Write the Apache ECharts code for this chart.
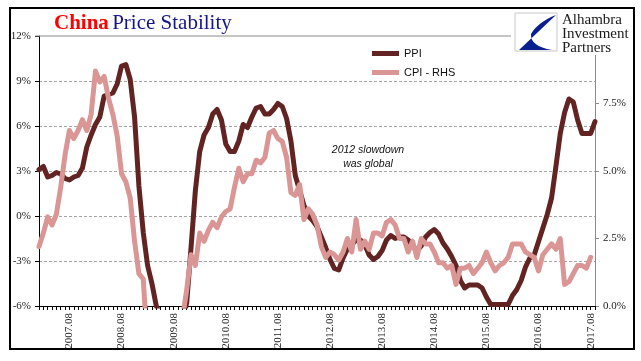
<!DOCTYPE html>
<html>
<head>
<meta charset="utf-8">
<script src="https://cdn.jsdelivr.net/npm/echarts@6/dist/echarts.min.js"></script>
<style>
html,body{margin:0;padding:0;background:#fff;}
#chart{width:641px;height:361px;}
</style>
</head>
<body>
<div id="chart"></div>
<script>
// Month slots (start of month) 2007.01 .. 2017.09
var months = [];
(function(){
  for (var y = 2007; y <= 2017; y++) {
    for (var m = 1; m <= 12; m++) {
      if (y === 2017 && m > 9) break;
      months.push(y + '.' + (m < 10 ? '0' + m : '' + m));
    }
  }
})();

// PPI y/y % (left axis), monthly 2006.12 .. 2017.08
var ppi = [3.1,
  3.3, 2.6, 2.7, 2.9, 2.8, 2.5, 2.4, 2.6, 2.7, 3.2, 4.6, 5.4,
  6.1, 6.6, 8.0, 8.1, 8.2, 8.8, 10.0, 10.1, 9.1, 6.6, 2.0, -1.1,
  -3.3, -4.5, -6.0, -6.6, -7.2, -7.8, -8.2, -7.9, -7.0, -5.8, -2.1, 1.7,
  4.3, 5.4, 5.9, 6.8, 7.1, 6.4, 4.8, 4.3, 4.3, 5.0, 6.1, 5.9,
  6.6, 7.2, 7.3, 6.8, 6.8, 7.1, 7.5, 7.3, 6.5, 5.0, 2.7, 1.7,
  0.7, 0.0, -0.3, -0.7, -1.4, -2.1, -2.9, -3.5, -3.6, -2.8, -2.2, -1.9,
  -1.6, -1.6, -1.9, -2.6, -2.9, -2.7, -2.3, -1.6, -1.3, -1.5, -1.4, -1.4,
  -1.6, -2.0, -2.3, -2.0, -1.4, -1.1, -0.9, -1.2, -1.8, -2.2, -2.7, -3.3,
  -4.3, -4.8, -4.6, -4.6, -4.6, -4.8, -5.4, -5.9, -5.9, -5.9, -5.9, -5.9,
  -5.3, -4.9, -4.3, -3.4, -2.8, -2.6, -1.7, -0.8, 0.1, 1.2, 3.3, 5.5,
  6.9, 7.8, 7.6, 6.4, 5.5, 5.5, 5.5, 6.3];

// CPI y/y % (right axis), monthly 2007.01 .. 2017.08
var cpi = [
  2.2, 2.7, 3.3, 3.0, 3.4, 4.4, 5.6, 6.5, 6.2, 6.5, 6.9, 6.5,
  7.1, 8.7, 8.3, 8.5, 7.7, 7.1, 6.3, 4.9, 4.6, 4.0, 2.4, 1.2,
  1.0, -1.6, -1.2, -1.5, -1.4, -1.7, -1.8, -1.2, -0.8, -0.5, 0.6, 1.9,
  1.5, 2.7, 2.4, 2.8, 3.1, 2.9, 3.3, 3.5, 3.6, 4.4, 5.1, 4.6,
  4.9, 4.9, 5.4, 5.3, 5.5, 6.4, 6.5, 6.2, 6.1, 5.5, 4.2, 4.1,
  4.5, 3.2, 3.6, 3.4, 3.0, 2.2, 1.8, 2.0, 1.9, 1.7, 2.0, 2.5,
  2.0, 3.2, 2.1, 2.4, 2.1, 2.7, 2.7, 2.6, 3.1, 3.2, 3.0, 2.5,
  2.5, 2.0, 2.4, 1.8, 2.5, 2.3, 2.3, 2.0, 1.6, 1.6, 1.4, 1.5,
  0.8, 1.4, 1.4, 1.5, 1.2, 1.4, 1.6, 2.0, 1.6, 1.3, 1.5, 1.6,
  1.8, 2.3, 2.3, 2.3, 2.0, 1.9, 1.8, 1.3, 1.9, 2.1, 2.3, 2.1,
  2.5, 0.8, 0.9, 1.2, 1.5, 1.5, 1.4, 1.8, null];

var leftTicks = {min: -6, max: 12, interval: 3};
var rightTicks = {min: 0, max: 10, interval: 2.5};

var PPI_COLOR = '#622423';
var CPI_COLOR = '#D99694';
var serif = '"Liberation Serif", "Times New Roman", serif';
var sans = '"Liberation Sans", Arial, sans-serif';

// logo swoosh outline (decoration)
function quad(p0, p1, p2, n) {
  var pts = [];
  for (var k = 1; k <= n; k++) {
    var t = k / n, a = (1 - t) * (1 - t), b = 2 * (1 - t) * t, c = t * t;
    pts.push([a * p0[0] + b * p1[0] + c * p2[0], a * p0[1] + b * p1[1] + c * p2[1]]);
  }
  return pts;
}
var logoPts = [[556, 15], [519, 50], [552, 50]]
  .concat(quad([552, 50], [530, 46], [531, 34], 8))
  .concat(quad([531, 34], [538, 22], [556, 15], 8));

var chart = echarts.init(document.getElementById('chart'), null, {renderer: 'canvas'});
chart.setOption({
  animation: false,
  backgroundColor: '#fff',
  grid: {left: 39, right: 46, top: 36, bottom: 55, containLabel: false},
  legend: {
    orient: 'vertical',
    left: 372, top: 48,
    padding: 0,
    itemGap: 8,
    itemWidth: 27, itemHeight: 5,
    icon: 'rect',
    textStyle: {fontFamily: sans, fontSize: 11, color: '#111'},
    data: ['PPI', 'CPI - RHS']
  },
  xAxis: {
    type: 'category',
    data: months,
    boundaryGap: false,
    axisLine: {onZero: false, lineStyle: {color: '#000', width: 1}},
    axisTick: {show: true, interval: 0, length: 4, lineStyle: {color: '#000'}},
    axisLabel: {
      interval: function (i, v) { return v.slice(5) === '08'; },
      rotate: 90, margin: 7,
      fontFamily: serif, fontSize: 11, color: '#222',
      padding: [5, 0, 0, 0]
    },
    splitLine: {show: false}
  },
  yAxis: [{
    type: 'value',
    position: 'left',
    min: leftTicks.min, max: leftTicks.max, interval: leftTicks.interval,
    axisLine: {show: true, lineStyle: {color: '#000'}},
    axisTick: {show: true, length: 4, lineStyle: {color: '#000'}},
    axisLabel: {formatter: '{value}%', fontFamily: serif, fontSize: 11, color: '#222', margin: 8},
    splitLine: {show: true, showMinLine: false, showMaxLine: false, lineStyle: {color: '#A6A6A6', type: [3, 2], width: 1}}
  }, {
    type: 'value',
    position: 'right',
    min: rightTicks.min, max: rightTicks.max, interval: rightTicks.interval,
    axisLine: {show: true, lineStyle: {color: '#8c8c8c'}},
    axisTick: {show: true, length: 4, lineStyle: {color: '#8c8c8c'}},
    axisLabel: {
      formatter: function (v) { return v >= 10 ? '' : v.toFixed(1) + '%'; },
      fontFamily: serif, fontSize: 11, color: '#222', margin: 8
    },
    splitLine: {show: false}
  }],
  series: [{
    name: 'PPI', type: 'line', yAxisIndex: 0, data: ppi,
    symbol: 'none', clip: true, z: 3,
    lineStyle: {color: PPI_COLOR, width: 5, cap: 'round', join: 'round'},
    itemStyle: {color: PPI_COLOR}
  }, {
    name: 'CPI - RHS', type: 'line', yAxisIndex: 1, data: cpi,
    symbol: 'none', clip: true, z: 4,
    lineStyle: {color: CPI_COLOR, width: 5, cap: 'round', join: 'round'},
    itemStyle: {color: CPI_COLOR}
  }],
  graphic: [
    {type: 'rect', z: 100, silent: true, shape: {x: 10, y: 8, width: 624, height: 341},
      style: {fill: 'none', stroke: '#000', lineWidth: 2}},
    {type: 'line', z: 50, silent: true, shape: {x1: 35, y1: 36, x2: 513, y2: 36},
      style: {stroke: '#8c8c8c', lineWidth: 1}},
    {type: 'rect', z: 60, silent: true, shape: {x: 511, y: 10, width: 122, height: 45},
      style: {fill: '#fff'}},
    {type: 'rect', z: 61, silent: true, shape: {x: 515, y: 13, width: 42, height: 38},
      style: {fill: '#fff', stroke: '#c8c8c8', lineWidth: 1}},
    {type: 'polygon', z: 62, silent: true,
      shape: {points: logoPts},
      style: {fill: '#0B1F8F'}},
    {type: 'text', z: 63, silent: true, x: 562, y: 13,
      style: {text: 'Alhambra\nInvestment\nPartners', font: '15px ' + serif, lineHeight: 14, fill: '#1a1a1a'}},
    {type: 'text', z: 63, silent: true, x: 54, y: 13,
      style: {
        text: '{a|China} {b|Price Stability}',
        rich: {
          a: {fontFamily: serif, fontSize: 21, fontWeight: 'bold', fill: '#FF0000'},
          b: {fontFamily: serif, fontSize: 21, fill: '#15158A'}
        }
      }},
    {type: 'text', z: 63, silent: true, x: 368, y: 143,
      style: {text: '2012 slowdown\nwas global', font: 'italic 10.5px ' + sans, lineHeight: 14,
        fill: '#111', align: 'center'}}
  ]
});
</script>
</body>
</html>
